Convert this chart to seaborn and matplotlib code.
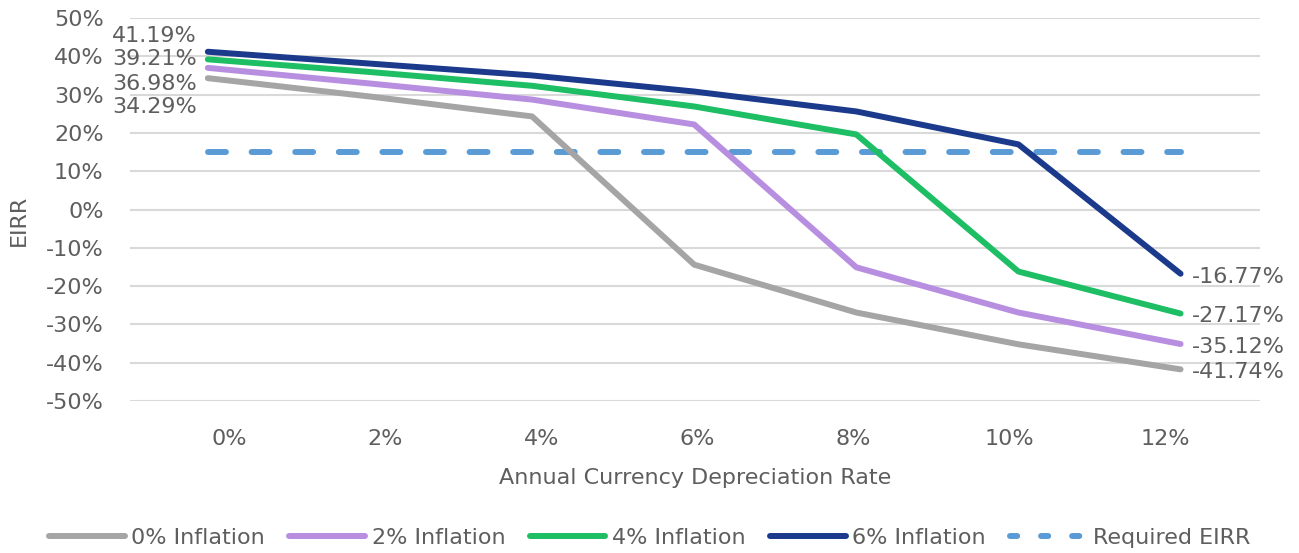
import numpy as np
import pandas as pd
import matplotlib
matplotlib.use("Agg")
import matplotlib.pyplot as plt
import seaborn as sns
from matplotlib.lines import Line2D

# === Data ===
depreciation = ["0%", "2%", "4%", "6%", "8%", "10%", "12%"]
infl_0 = [34.29, 29.5, 24.3, -14.4, -26.9, -35.2, -41.74]
infl_2 = [36.98, 32.9, 28.7, 22.2, -15.1, -26.9, -35.12]
infl_4 = [39.21, 35.9, 32.3, 26.9, 19.6, -16.2, -27.17]
infl_6 = [41.19, 38.1, 35.0, 30.8, 25.6, 17.0, -16.77]
required_eirr = [15.0] * 7
series_names = ["0% Inflation", "2% Inflation", "4% Inflation", "6% Inflation"]
series_colors = ["#A5A5A5", "#B88FE0", "#1DBE64", "#1B3A8C"]
req_color = "#5B9BD5"

sns.set_theme(style="white")
plt.rcParams['font.family'] = ['DejaVu Sans']
text_color = "#5E5E5E"
fs = 16

# long form table for seaborn
rows = []
for name, vals in zip(series_names, [infl_0, infl_2, infl_4, infl_6]):
    for i, v in enumerate(vals):
        rows.append({"x": i, "eirr": v / 100, "series": name})
df = pd.DataFrame(rows)
df_req = pd.DataFrame({"x": range(len(depreciation)), "eirr": np.array(required_eirr) / 100})

fig = plt.figure(figsize=(12.99, 5.53), dpi=100)
ax = fig.add_axes([130 / 1299, 1 - 401 / 553, 1130 / 1299, 383 / 553])

sns.lineplot(data=df_req, x="x", y="eirr", color=req_color, lw=4.3,
             linestyle=(0, (3.0, 4.3)), dash_capstyle="round", ax=ax, legend=False)
sns.lineplot(data=df, x="x", y="eirr", hue="series", hue_order=series_names,
             palette=series_colors, lw=4.3, ax=ax, legend=False,
             solid_capstyle="round", solid_joinstyle="round")

ax.set_xlim(-0.48, 6.49)
ax.set_ylim(-0.5, 0.5)
yt = np.arange(-0.5, 0.51, 0.1)
ax.set_yticks(yt)
ax.set_yticklabels([f"{int(round(t * 100))}%" for t in yt])
# category labels sit slightly off the data points in the reference
ax.set_xticks(0.13 + 0.963 * np.arange(len(depreciation)))
ax.set_xticklabels(depreciation)
ax.yaxis.grid(True, color="#D9D9D9", lw=1.5)
ax.xaxis.grid(False)
for s in ax.spines.values():
    s.set_visible(False)
ax.tick_params(axis="both", labelsize=fs, colors=text_color, length=0)
ax.tick_params(axis="x", pad=20)
ax.tick_params(axis="y", pad=19)
ax.set_xlabel("Annual Currency Depreciation Rate", fontsize=fs, color=text_color)
ax.xaxis.set_label_coords(0.5, -(478 - 401) / 383, transform=ax.transAxes)
ax.xaxis.label.set_va("center")
ax.set_ylabel("EIRR", fontsize=fs, color=text_color)
ax.yaxis.set_label_coords(-(130 - 19) / 1130, (401 - 220) / 383)
ax.yaxis.label.set_va("center")

# end labels
all_vals = [infl_0, infl_2, infl_4, infl_6]
left_off = {3: 11, 2: 0, 1: -11.5, 0: -20.5}
for k in range(4):
    v0 = all_vals[k][0]
    ax.annotate(f"{v0:.2f}%", xy=(0, v0 / 100), xytext=(-8, left_off[k]),
                textcoords="offset points", ha="right", va="center",
                fontsize=fs, color=text_color)
    v1 = all_vals[k][-1]
    ax.annotate(f"{v1:.2f}%", xy=(6, v1 / 100), xytext=(8, -2),
                textcoords="offset points", ha="left", va="center",
                fontsize=fs, color=text_color)

handles = [Line2D([0], [0], color=c, lw=4.3, solid_capstyle="round") for c in series_colors]
handles.append(Line2D([0], [0], color=req_color, lw=4.3, linestyle=(0, (1.2, 4.0)),
                      dash_capstyle="round"))
labels = series_names + ["Required EIRR"]
leg = fig.legend(handles, labels, loc="center", bbox_to_anchor=(0.5, 1 - 538 / 553),
                 ncol=5, frameon=False, fontsize=fs, handlelength=3.4,
                 handletextpad=0.3, columnspacing=1.1)
for t in leg.get_texts():
    t.set_color(text_color)

fig.savefig("out.png", dpi=100)
